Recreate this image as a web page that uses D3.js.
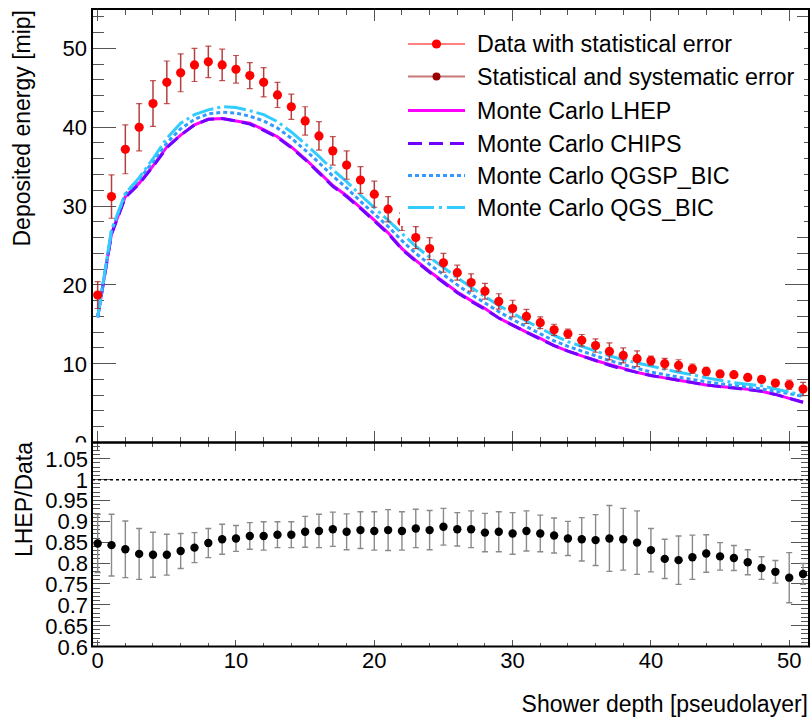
<!DOCTYPE html>
<html>
<head>
<meta charset="utf-8">
<script src="https://cdn.jsdelivr.net/npm/d3@7/dist/d3.min.js"></script>
<style>
  body { margin: 0; background: white; }
  text { font-family: 'Liberation Sans', Arial, sans-serif; fill: black; }
</style>
</head>
<body>
<div id="chart"></div>
<script>
// Shower depth (pseudolayer index)
var layers = [0, 1, 2, 3, 4, 5, 6, 7, 8, 9, 10, 11, 12, 13, 14, 15, 16, 17, 18, 19, 20, 21, 22, 23, 24, 25,
  26, 27, 28, 29, 30, 31, 32, 33, 34, 35, 36, 37, 38, 39, 40, 41, 42, 43, 44, 45, 46, 47, 48, 49, 50, 51]

// Data points [mip] and total error (stat + syst)
var dataEnergy = [18.7, 31.2, 37.2, 40.0, 43.0, 45.7, 46.9, 47.9, 48.3, 47.9, 47.35, 46.55, 45.7, 44.1, 42.6, 40.8,
  38.9, 37.0, 35.2, 33.3, 31.5, 29.6, 28.0, 26.0, 24.6, 22.8, 21.55, 20.3, 19.2, 17.9, 17.0, 16.0, 15.2, 14.3,
  13.8, 12.96, 12.3, 11.56, 11.05, 10.63, 10.38, 10.0, 9.78, 9.36, 9.02, 8.7, 8.6, 8.26, 8.0, 7.54, 7.33, 6.78]
var dataError = [1.7, 2.75, 3.1, 3.0, 2.9, 2.7, 2.4, 2.1, 2.0, 2.0, 1.75, 1.65, 1.85, 1.6, 1.6, 1.8, 1.8, 1.8,
  1.8, 1.7, 1.65, 1.6, 1.1, 1.4, 1.4, 1.2, 0.95, 1.1, 1.0, 0.97, 1.05, 0.9, 0.75, 0.7, 0.6, 0.74, 0.85, 1.08,
  0.95, 1.0, 0.57, 0.68, 0.72, 0.6, 0.53, 0.3, 0.3, 0.25, 0.25, 0.3, 0.6, 0.85]

// Monte Carlo predictions [mip]
var mcLHEP = [15.9, 26.5, 31.2, 32.9, 35.1, 37.5, 39.0, 40.3, 41.0, 41.1, 40.8, 40.5, 39.7, 38.8, 37.5, 36.0,
  34.3, 32.6, 31.3, 29.8, 28.2, 26.6, 24.6, 23.1, 21.7, 20.4, 19.1, 18.0, 17.0, 15.8, 14.9, 14.0, 13.2, 12.3,
  11.6, 11.0, 10.4, 9.9, 9.4, 8.9, 8.5, 8.2, 7.9, 7.6, 7.3, 7.1, 6.95, 6.75, 6.5, 6.1, 5.6, 5.1]
var mcCHIPS = [15.9, 26.4, 31.1, 32.8, 35.0, 37.4, 39.0, 40.3, 41.0, 41.1, 40.8, 40.4, 39.6, 38.7, 37.4, 35.9,
  34.2, 32.5, 31.2, 29.7, 28.1, 26.5, 24.5, 23.0, 21.6, 20.3, 19.0, 17.9, 16.9, 15.8, 14.9, 14.0, 13.1, 12.3,
  11.6, 11.0, 10.4, 9.8, 9.3, 8.9, 8.5, 8.2, 7.9, 7.6, 7.3, 7.1, 6.9, 6.7, 6.5, 6.1, 5.6, 5.1]
var mcQGSP = [15.9, 26.8, 31.5, 33.4, 35.6, 38.0, 39.8, 41.0, 41.7, 41.9, 41.8, 41.4, 40.8, 39.9, 38.6, 37.1,
  35.5, 33.8, 32.3, 30.6, 29.0, 27.4, 25.6, 24.0, 22.6, 21.3, 20.0, 18.8, 17.7, 16.6, 15.6, 14.7, 13.8, 12.9,
  12.2, 11.6, 11.0, 10.4, 9.9, 9.4, 8.95, 8.6, 8.3, 8.0, 7.7, 7.45, 7.25, 7.0, 6.8, 6.5, 6.2, 5.85]
var mcQGS = [15.9, 27.0, 31.6, 33.6, 36.0, 38.6, 40.5, 41.6, 42.2, 42.6, 42.5, 42.1, 41.6, 40.7, 39.4, 37.9,
  36.3, 34.6, 33.1, 31.4, 29.8, 28.2, 26.5, 24.9, 23.5, 22.2, 20.9, 19.7, 18.5, 17.4, 16.4, 15.4, 14.5, 13.6,
  12.8, 12.2, 11.6, 11.0, 10.5, 10.1, 9.7, 9.3, 8.9, 8.6, 8.2, 7.9, 7.6, 7.4, 7.2, 6.8, 6.4, 6.0]

// Ratio LHEP / Data and its error
var ratio = [0.847, 0.843, 0.833, 0.822, 0.82, 0.82, 0.829, 0.837, 0.848, 0.857, 0.859, 0.865, 0.865, 0.868,
  0.868, 0.875, 0.877, 0.881, 0.875, 0.879, 0.877, 0.879, 0.877, 0.883, 0.879, 0.887, 0.881, 0.881, 0.873,
  0.875, 0.871, 0.877, 0.871, 0.866, 0.859, 0.857, 0.855, 0.859, 0.857, 0.849, 0.831, 0.81, 0.807, 0.814,
  0.823, 0.816, 0.812, 0.802, 0.788, 0.779, 0.765, 0.774]
var ratioError = [0.07, 0.074, 0.068, 0.061, 0.054, 0.049, 0.042, 0.036, 0.035, 0.036, 0.031, 0.032, 0.034,
  0.031, 0.031, 0.037, 0.04, 0.041, 0.043, 0.044, 0.046, 0.049, 0.046, 0.046, 0.047, 0.044, 0.04, 0.044,
  0.046, 0.048, 0.05, 0.048, 0.044, 0.042, 0.041, 0.052, 0.061, 0.079, 0.074, 0.076, 0.052, 0.047, 0.058,
  0.053, 0.045, 0.033, 0.03, 0.03, 0.027, 0.027, 0.06, 0.025]

// Ticks
var xTicks = [0, 10, 20, 30, 40, 50]
var xTickLabels = ['0', '10', '20', '30', '40', '50']
var energyTicks = [0, 10, 20, 30, 40, 50]
var energyTickLabels = ['0', '10', '20', '30', '40', '50']
var ratioTicks = [0.6, 0.65, 0.7, 0.75, 0.8, 0.85, 0.9, 0.95, 1, 1.05]
var ratioTickLabels = ['0.6', '0.65', '0.7', '0.75', '0.8', '0.85', '0.9', '0.95', '1', '1.05']

var legendLabels = ['Data with statistical error', 'Statistical and systematic error', 'Monte Carlo LHEP',
  'Monte Carlo CHIPS', 'Monte Carlo QGSP_BIC', 'Monte Carlo QGS_BIC']

// Basic layout
var chart = { width: 811, height: 720 }
var frame = { left: 92, right: 809, top: 9, split: 442.5, bottom: 646.5 }

chart.svg = d3.select('#chart')
  .append('svg')
  .attr('width', chart.width)
  .attr('height', chart.height)
  .style('background', 'white')

var x = d3.scaleLinear().domain([-0.41, 51.43]).range([frame.left, frame.right])
var yTop = d3.scaleLinear().domain([0, 55]).range([frame.split, frame.top])
var yBot = d3.scaleLinear().domain([0.6, 1.089]).range([frame.bottom, frame.split])

var tickColor = '#555'

// draw a set of ticks along one side of a panel
function drawTicks(g, values, side, len, pos, scale) {
  g.selectAll(null)
    .data(values)
    .enter()
    .append('line')
    .attr('x1', d => side === 'left' || side === 'right' ? pos : scale(d))
    .attr('x2', d => side === 'left' ? pos + len : side === 'right' ? pos - len : scale(d))
    .attr('y1', d => side === 'top' || side === 'bottom' ? pos : scale(d))
    .attr('y2', d => side === 'top' ? pos + len : side === 'bottom' ? pos - len : scale(d))
    .attr('stroke', tickColor)
    .attr('stroke-width', 1)
    .attr('shape-rendering', 'crispEdges')
}

// ---------- Top panel ----------
var topPanel = chart.svg.append('g')

var xMinor = d3.range(0, 52, 2)
drawTicks(topPanel, xMinor, 'top', 6, frame.top, x)
drawTicks(topPanel, xTicks, 'top', 12, frame.top, x)
drawTicks(topPanel, xMinor, 'bottom', 6, frame.split, x)
drawTicks(topPanel, xTicks, 'bottom', 12, frame.split, x)

var energyMinor = d3.range(0, 56, 2)
drawTicks(topPanel, energyMinor, 'left', 12, frame.left, yTop)
drawTicks(topPanel, energyTicks, 'left', 24, frame.left, yTop)
drawTicks(topPanel, energyMinor, 'right', 12, frame.right, yTop)
drawTicks(topPanel, energyTicks, 'right', 24, frame.right, yTop)

topPanel.selectAll('text.ylab')
  .data(energyTicks)
  .enter()
  .append('text')
  .attr('class', 'ylab')
  .attr('x', 87)
  .attr('y', d => yTop(d) + 8)
  .attr('text-anchor', 'end')
  .style('font-size', '22px')
  .text((d, i) => energyTickLabels[i])

topPanel.append('text')
  .attr('transform', 'translate(30,10) rotate(-90)')
  .attr('text-anchor', 'end')
  .style('font-size', '23px')
  .text('Deposited energy [mip]')

// Monte Carlo curves
var curves = [
  { values: mcLHEP, color: '#ff00ff', dash: null },
  { values: mcCHIPS, color: '#7000ff', dash: '14,7' },
  { values: mcQGSP, color: '#3399ff', dash: '4,3' },
  { values: mcQGS, color: '#33ccff', dash: '22,4,3,4' }
]

var line = d3.line()
  .x((d, i) => x(layers[i]))
  .y(d => yTop(d))

topPanel.selectAll('path.mc')
  .data(curves)
  .enter()
  .append('path')
  .attr('class', 'mc')
  .attr('d', d => line(d.values))
  .attr('fill', 'none')
  .attr('stroke', d => d.color)
  .attr('stroke-width', 3)
  .attr('stroke-dasharray', d => d.dash)

// Data error bars
var errG = topPanel.append('g')
errG.selectAll('line.err')
  .data(layers)
  .enter()
  .append('line')
  .attr('x1', d => x(d))
  .attr('x2', d => x(d))
  .attr('y1', (d, i) => yTop(dataEnergy[i] + dataError[i]))
  .attr('y2', (d, i) => yTop(dataEnergy[i] - dataError[i]))
  .attr('stroke', '#a81c1c')
  .attr('stroke-opacity', 0.85)
  .attr('stroke-width', 1.5)

errG.selectAll('path.cap')
  .data(layers)
  .enter()
  .append('path')
  .attr('d', (d, i) => {
    let hi = yTop(dataEnergy[i] + dataError[i])
    let lo = yTop(dataEnergy[i] - dataError[i])
    return `M ${x(d) - 3} ${hi} H ${x(d) + 3} M ${x(d) - 3} ${lo} H ${x(d) + 3}`
  })
  .attr('stroke', '#b22222')
  .attr('stroke-opacity', 0.75)
  .attr('stroke-width', 1.2)

topPanel.selectAll('circle.data')
  .data(layers)
  .enter()
  .append('circle')
  .attr('cx', d => x(d))
  .attr('cy', (d, i) => yTop(dataEnergy[i]))
  .attr('r', 4.6)
  .attr('fill', '#ff0000')

// Legend
var legend = topPanel.append('g')
legend.append('rect')
  .attr('x', 400)
  .attr('y', 24)
  .attr('width', 404)
  .attr('height', 202)
  .attr('fill', 'white')

var legendStyles = [
  { color: '#ff0000', width: 1, dash: null, marker: '#ff0000' },
  { color: '#c87878', width: 2, dash: null, marker: '#990000' },
  { color: '#ff00ff', width: 3, dash: null },
  { color: '#7000ff', width: 3, dash: '14,7' },
  { color: '#3399ff', width: 3, dash: '4,3' },
  { color: '#33ccff', width: 3, dash: '26,5,3,5' }
]
var legendY = [44, 76.5, 110.5, 143.5, 175.5, 207.5]

var rows = legend.selectAll('g.row')
  .data(legendLabels)
  .enter()
  .append('g')
  .attr('transform', (d, i) => `translate(0,${legendY[i]})`)

rows.append('line')
  .attr('x1', 408)
  .attr('x2', 465)
  .attr('stroke', (d, i) => legendStyles[i].color)
  .attr('stroke-width', (d, i) => legendStyles[i].width)
  .attr('stroke-dasharray', (d, i) => legendStyles[i].dash)

rows.filter((d, i) => legendStyles[i].marker)
  .append('circle')
  .attr('cx', 436.5)
  .attr('r', (d, i) => i === 0 ? 4.6 : 4)
  .attr('fill', (d, i) => i === 0 ? legendStyles[0].marker : legendStyles[1].marker)

rows.append('text')
  .attr('x', 477)
  .attr('y', 8)
  .style('font-size', '23.3px')
  .text(d => d)

// ---------- Bottom panel ----------
var botPanel = chart.svg.append('g')
botPanel.append('rect')
  .attr('x', 0)
  .attr('y', frame.split)
  .attr('width', chart.width)
  .attr('height', chart.height - frame.split)
  .attr('fill', 'white')

drawTicks(botPanel, xMinor, 'top', 4, frame.split, x)
drawTicks(botPanel, xTicks, 'top', 8, frame.split, x)
drawTicks(botPanel, xMinor, 'bottom', 4, frame.bottom, x)
drawTicks(botPanel, xTicks, 'bottom', 7, frame.bottom, x)

var ratioMinor = d3.range(60, 109, 1).map(d => d / 100)
drawTicks(botPanel, ratioMinor, 'left', 8, frame.left, yBot)
drawTicks(botPanel, ratioTicks, 'left', 18, frame.left, yBot)
drawTicks(botPanel, ratioMinor, 'right', 8, frame.right, yBot)
drawTicks(botPanel, ratioTicks, 'right', 18, frame.right, yBot)

botPanel.selectAll('text.rlab')
  .data(ratioTicks)
  .enter()
  .append('text')
  .attr('class', 'rlab')
  .attr('x', 88)
  .attr('y', d => yBot(d) + 8)
  .attr('text-anchor', 'end')
  .style('font-size', '22px')
  .text((d, i) => ratioTickLabels[i])

botPanel.selectAll('text.xlab')
  .data(xTicks)
  .enter()
  .append('text')
  .attr('class', 'xlab')
  .attr('x', d => x(d))
  .attr('y', 668)
  .attr('text-anchor', 'middle')
  .style('font-size', '22px')
  .text((d, i) => xTickLabels[i])

botPanel.append('text')
  .attr('transform', 'translate(32,442) rotate(-90)')
  .attr('text-anchor', 'end')
  .style('font-size', '23px')
  .text('LHEP/Data')

botPanel.append('text')
  .attr('x', 808)
  .attr('y', 712)
  .attr('text-anchor', 'end')
  .style('font-size', '23px')
  .text('Shower depth [pseudolayer]')

// reference line at 1
botPanel.append('line')
  .attr('x1', frame.left)
  .attr('x2', frame.right)
  .attr('y1', yBot(1))
  .attr('y2', yBot(1))
  .attr('stroke', 'black')
  .attr('stroke-width', 1.5)
  .attr('stroke-dasharray', '3,3')

botPanel.selectAll('path.rerr')
  .data(layers)
  .enter()
  .append('path')
  .attr('d', (d, i) => {
    let hi = yBot(ratio[i] + ratioError[i])
    let lo = yBot(ratio[i] - ratioError[i])
    return `M ${x(d)} ${hi} V ${lo} M ${x(d) - 3} ${hi} H ${x(d) + 3} M ${x(d) - 3} ${lo} H ${x(d) + 3}`
  })
  .attr('fill', 'none')
  .attr('stroke', '#8a8a8a')
  .attr('stroke-width', 1.4)

botPanel.selectAll('circle.ratio')
  .data(layers)
  .enter()
  .append('circle')
  .attr('cx', d => x(d))
  .attr('cy', (d, i) => yBot(ratio[i]))
  .attr('r', 4.2)
  .attr('fill', 'black')

// Frames
chart.svg.append('rect')
  .attr('x', frame.left)
  .attr('y', frame.top)
  .attr('width', frame.right - frame.left)
  .attr('height', frame.split - frame.top)
  .attr('fill', 'none')
  .attr('stroke', 'black')
  .attr('stroke-width', 2)

chart.svg.append('rect')
  .attr('x', frame.left)
  .attr('y', frame.split)
  .attr('width', frame.right - frame.left)
  .attr('height', frame.bottom - frame.split)
  .attr('fill', 'none')
  .attr('stroke', 'black')
  .attr('stroke-width', 2)
</script>
</body>
</html>
